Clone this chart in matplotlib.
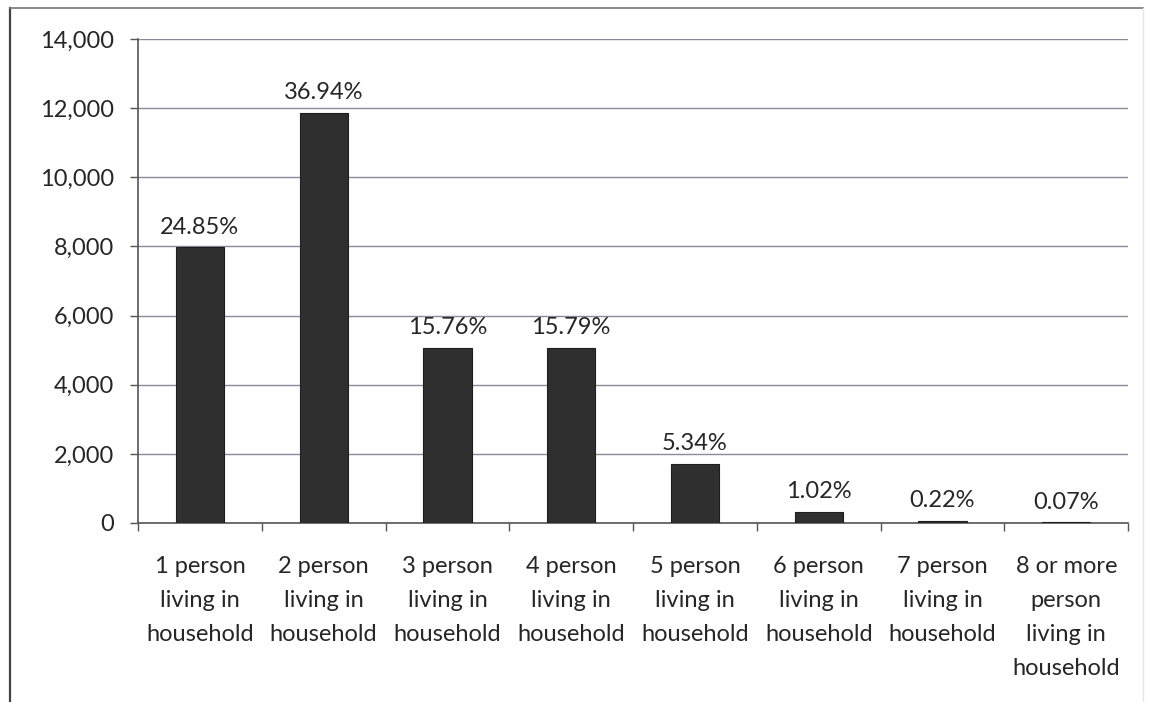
import matplotlib.pyplot as plt
from matplotlib.lines import Line2D
from matplotlib.ticker import FuncFormatter, MultipleLocator

plt.rcParams['font.family'] = ['Lato', 'DejaVu Sans']

# household size distribution
categories = [
    "1 person\nliving in\nhousehold",
    "2 person\nliving in\nhousehold",
    "3 person\nliving in\nhousehold",
    "4 person\nliving in\nhousehold",
    "5 person\nliving in\nhousehold",
    "6 person\nliving in\nhousehold",
    "7 person\nliving in\nhousehold",
    "8 or more\nperson\nliving in\nhousehold",
]
counts = [7977, 11858, 5059, 5069, 1714, 327, 71, 22]
shares = ["24.85%", "36.94%", "15.76%", "15.79%", "5.34%", "1.02%", "0.22%", "0.07%"]

fig = plt.figure(figsize=(11.5, 7.02), dpi=100)
ax = fig.add_axes([0.12, 0.255, 0.861, 0.6894])

x = list(range(len(categories)))
bars = ax.bar(x, counts, width=0.39, color='#2f2f2f', edgecolor='#1e1e1e', linewidth=0.8, zorder=3)

for b, s in zip(bars, shares):
    ax.annotate(s, (b.get_x() + b.get_width() / 2, b.get_height()),
                xytext=(0, 7), textcoords='offset points',
                ha='center', va='bottom', fontsize=17, color='#262626')

ax.set_xlim(-0.5, len(categories) - 0.5)
ax.set_ylim(0, 14000)
ax.yaxis.set_major_locator(MultipleLocator(2000))
ax.yaxis.set_major_formatter(FuncFormatter(lambda v, p: f"{int(v):,}"))
ax.grid(axis='y', color='#8a8a9a', linewidth=1.0, zorder=0)

# category labels at bar centres, tick marks between categories
ax.set_xticks(x)
ax.set_xticklabels(categories, fontsize=17, color='#262626', linespacing=1.75)
ax.set_xticks([i - 0.5 for i in range(len(categories) + 1)], minor=True)
ax.tick_params(axis='x', which='major', length=0, pad=24)
ax.tick_params(axis='x', which='minor', length=6, width=1, color='#555555', direction='out')
ax.tick_params(axis='y', length=6, width=1, color='#555555', labelsize=17,
               labelcolor='#262626', pad=11)

for side in ['top', 'right']:
    ax.spines[side].set_visible(False)
for side in ['left', 'bottom']:
    ax.spines[side].set_color('#555555')
    ax.spines[side].set_linewidth(1.2)

# outer chart border
fig.add_artist(Line2D([10 / 1150, 10 / 1150], [0, 1 - 8 / 702], color='#444444', linewidth=1.6))
fig.add_artist(Line2D([10 / 1150, 1143 / 1150], [1 - 8 / 702, 1 - 8 / 702], color='#777777', linewidth=1.2))
fig.add_artist(Line2D([1143 / 1150, 1143 / 1150], [0, 1 - 8 / 702], color='#e6e6e6', linewidth=1.0))

fig.savefig('out.png', dpi=100)
